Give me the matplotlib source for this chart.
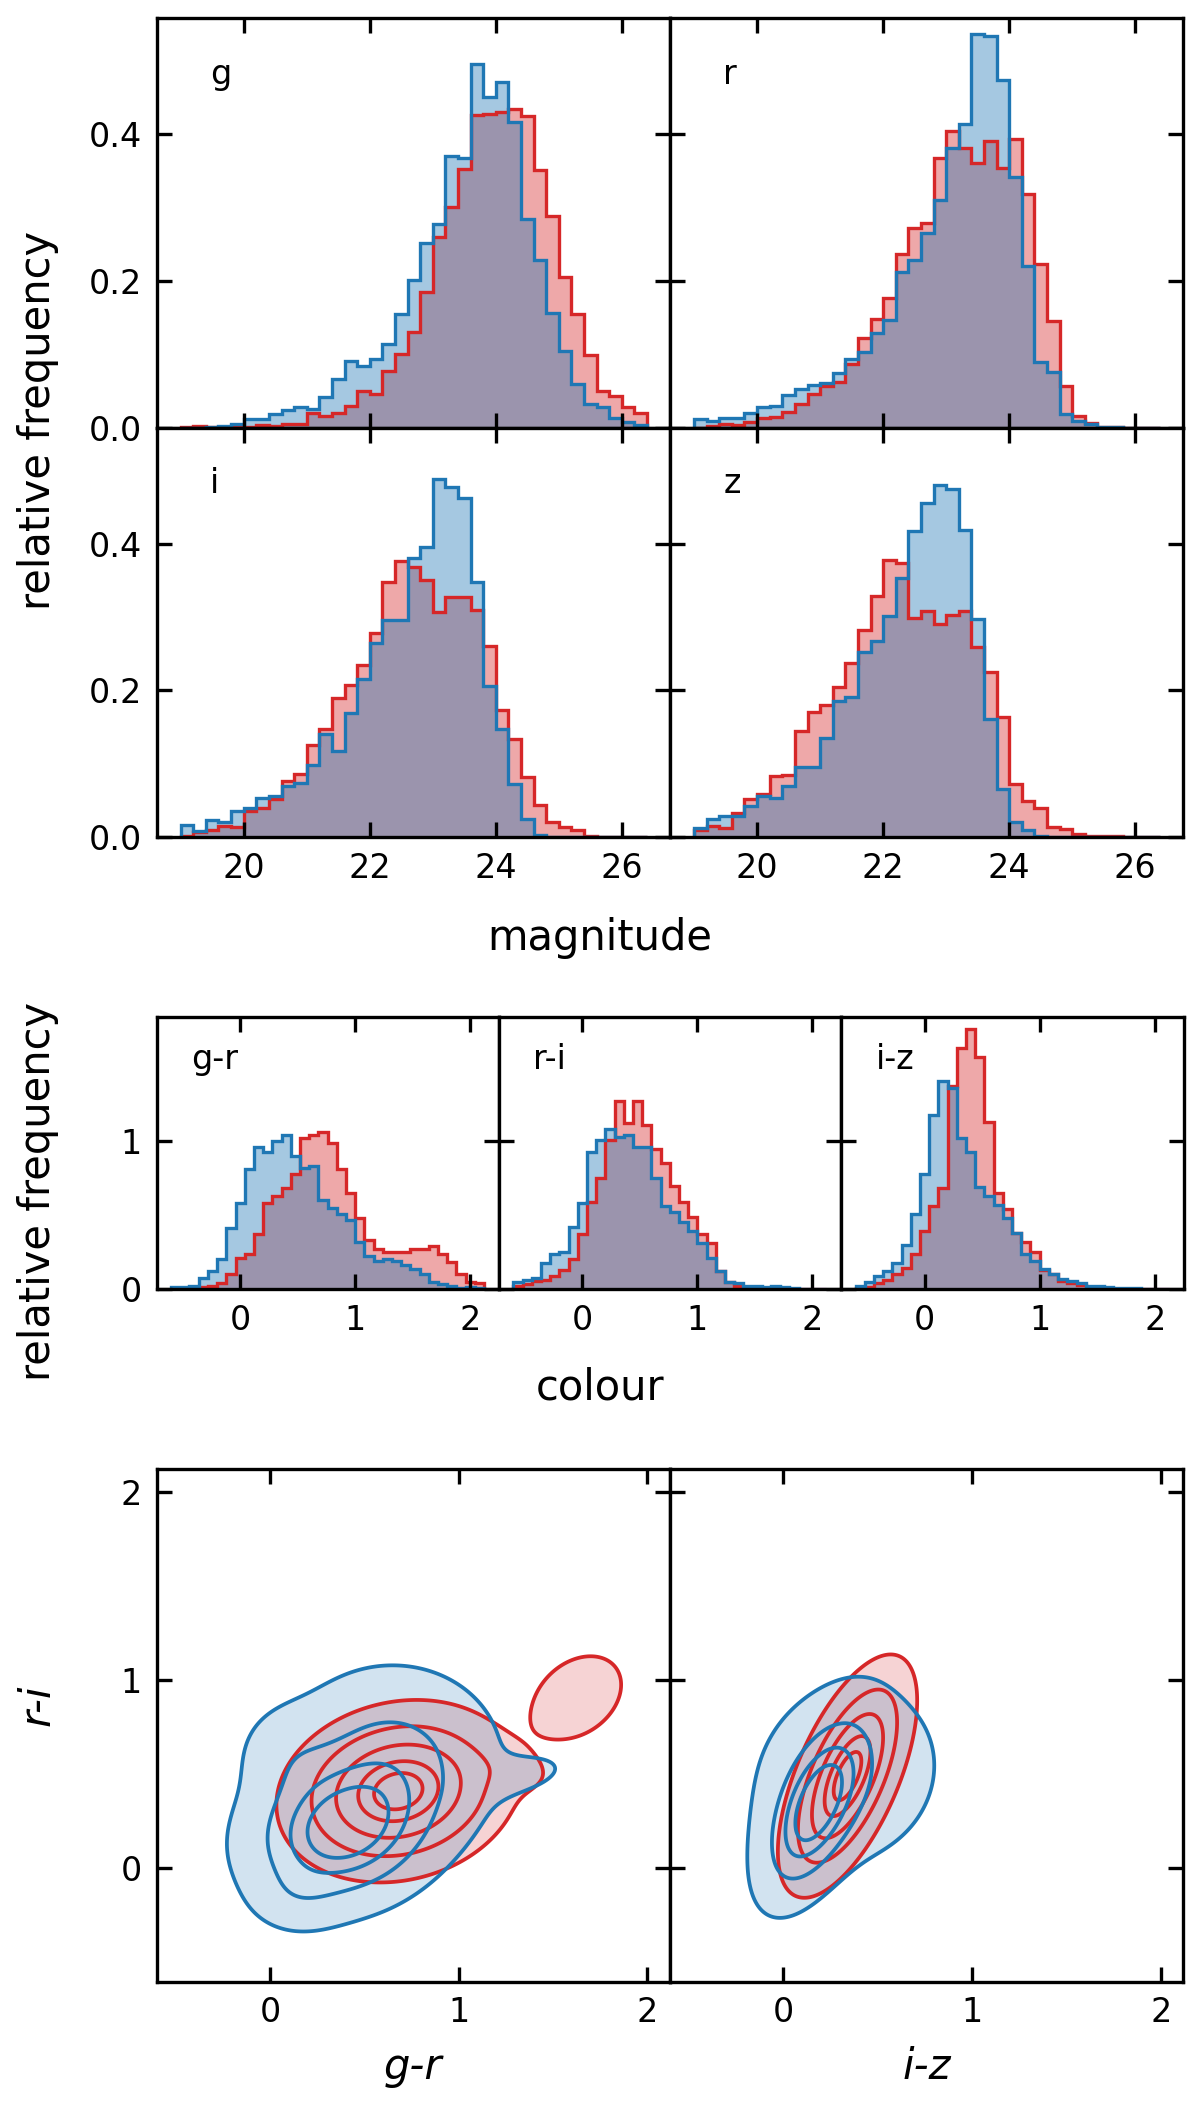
import numpy as np
import matplotlib
matplotlib.use("Agg")
import matplotlib.pyplot as plt

# ---------------- data ----------------
BLUE = "#1f77b4"
RED = "#d62728"

mag_edges = np.round(np.arange(19.0, 26.4001, 0.2), 3)   # 37 bins
bands = ["g", "r", "i", "z"]

g_blue = [0.000, 0.000, 0.002, 0.003, 0.005, 0.012, 0.012, 0.019, 0.024, 0.028, 0.026, 0.042, 0.067,
          0.091, 0.084, 0.094, 0.114, 0.155, 0.202, 0.252, 0.278, 0.370, 0.367, 0.495, 0.451, 0.471,
          0.417, 0.284, 0.228, 0.156, 0.105, 0.060, 0.032, 0.028, 0.013, 0.008, 0.004]
g_red = [0.001, 0.003, 0.002, 0.002, 0.002, 0.002, 0.004, 0.003, 0.006, 0.005, 0.021, 0.017, 0.021,
         0.030, 0.051, 0.046, 0.078, 0.101, 0.131, 0.185, 0.260, 0.301, 0.352, 0.426, 0.427, 0.430,
         0.434, 0.425, 0.351, 0.288, 0.206, 0.155, 0.100, 0.050, 0.043, 0.028, 0.021]
r_blue = [0.012, 0.009, 0.013, 0.014, 0.020, 0.029, 0.030, 0.045, 0.053, 0.059, 0.061, 0.075, 0.094,
          0.104, 0.129, 0.147, 0.212, 0.228, 0.265, 0.310, 0.381, 0.414, 0.536, 0.534, 0.473, 0.341,
          0.221, 0.090, 0.076, 0.019, 0.010, 0.005, 0.002, 0.001, 0.0, 0.0, 0.0]
r_red = [0.0005, 0.003, 0.005, 0.004, 0.008, 0.014, 0.015, 0.022, 0.033, 0.046, 0.057, 0.062, 0.087,
         0.122, 0.148, 0.177, 0.237, 0.272, 0.279, 0.367, 0.404, 0.381, 0.361, 0.390, 0.354, 0.393,
         0.318, 0.223, 0.146, 0.057, 0.017, 0.007, 0.002, 0.001, 0.0, 0.0, 0.0]
i_blue = [0.017, 0.008, 0.023, 0.020, 0.035, 0.040, 0.053, 0.056, 0.070, 0.074, 0.098, 0.140, 0.117,
          0.169, 0.216, 0.265, 0.296, 0.296, 0.380, 0.395, 0.488, 0.477, 0.462, 0.348, 0.206, 0.147,
          0.072, 0.025, 0.003, 0.0, 0.0, 0.0, 0.0, 0.0, 0.0, 0.0, 0.0]
i_red = [0.002, 0.007, 0.009, 0.015, 0.013, 0.035, 0.039, 0.052, 0.076, 0.086, 0.126, 0.148, 0.189,
         0.208, 0.234, 0.279, 0.348, 0.376, 0.369, 0.350, 0.307, 0.328, 0.328, 0.310, 0.261, 0.173,
         0.134, 0.082, 0.044, 0.020, 0.013, 0.010, 0.002, 0.0, 0.0, 0.0, 0.0]
z_blue = [0.012, 0.024, 0.029, 0.029, 0.042, 0.056, 0.053, 0.069, 0.095, 0.096, 0.135, 0.186, 0.191,
          0.253, 0.267, 0.302, 0.354, 0.417, 0.456, 0.480, 0.475, 0.419, 0.297, 0.161, 0.065, 0.020,
          0.010, 0.002, 0.0, 0.0, 0.0, 0.0, 0.0, 0.0, 0.0, 0.0, 0.0]
z_red = [0.009, 0.015, 0.012, 0.033, 0.052, 0.058, 0.083, 0.085, 0.144, 0.170, 0.180, 0.205, 0.238,
         0.283, 0.329, 0.378, 0.374, 0.299, 0.309, 0.291, 0.303, 0.308, 0.259, 0.225, 0.164, 0.072,
         0.049, 0.040, 0.014, 0.011, 0.004, 0.002, 0.002, 0.001, 0.0, 0.0, 0.0]

col_edges = np.round(np.linspace(-0.6, 2.12, 35), 3)   # 34 bins
colours = ["g-r", "r-i", "i-z"]

gr_blue = [0.011, 0.016, 0.018, 0.074, 0.12, 0.20, 0.41, 0.58, 0.81, 0.96, 0.93, 1.00, 1.04, 0.90,
           0.82, 0.83, 0.60, 0.55, 0.51, 0.47, 0.32, 0.22, 0.19, 0.20, 0.19, 0.16, 0.135, 0.10,
           0.05, 0.036, 0.018, 0.007, 0.011, 0.007]
gr_red = [0.0, 0.0, 0.0, 0.011, 0.023, 0.04, 0.10, 0.21, 0.24, 0.37, 0.58, 0.63, 0.68, 0.78,
          1.02, 1.04, 1.06, 0.99, 0.81, 0.65, 0.48, 0.33, 0.27, 0.25, 0.25, 0.25, 0.27, 0.27,
          0.29, 0.24, 0.18, 0.10, 0.05, 0.04]
ri_blue = [0.047, 0.063, 0.074, 0.176, 0.24, 0.25, 0.42, 0.58, 0.93, 1.01, 1.08, 1.03, 1.04, 0.96,
           0.96, 0.75, 0.56, 0.52, 0.45, 0.39, 0.31, 0.21, 0.12, 0.05, 0.038, 0.018, 0.018, 0.011,
           0.023, 0.011, 0.007, 0.003, 0.003, 0.003]
ri_red = [0.018, 0.034, 0.056, 0.063, 0.086, 0.13, 0.20, 0.37, 0.59, 0.75, 1.01, 1.27, 1.12, 1.27,
          1.11, 0.95, 0.85, 0.70, 0.59, 0.49, 0.37, 0.31, 0.12, 0.05, 0.018, 0.003, 0.003, 0.0,
          0.0, 0.0, 0.0, 0.0, 0.0, 0.0]
iz_blue = [0.018, 0.047, 0.09, 0.12, 0.176, 0.30, 0.51, 0.78, 1.18, 1.41, 1.36, 1.02, 0.93, 0.69,
           0.63, 0.57, 0.48, 0.38, 0.24, 0.19, 0.135, 0.10, 0.068, 0.052, 0.04, 0.023, 0.018,
           0.011, 0.007, 0.005, 0.005, 0.003, 0.003, 0.002]
iz_red = [0.005, 0.011, 0.04, 0.063, 0.10, 0.14, 0.24, 0.39, 0.56, 0.68, 1.37, 1.63, 1.76, 1.57,
          1.13, 0.65, 0.54, 0.38, 0.32, 0.25, 0.13, 0.10, 0.056, 0.04, 0.03, 0.011, 0.002, 0.0,
          0.0, 0.0, 0.0, 0.0, 0.0, 0.0]

# 2-D density models (Gaussian mixture parameters estimated from the contours)
# left panel: x = g-r, y = r-i ; right panel: x = i-z, y = r-i
gr_blue_means = [(0.38, 0.20), (0.65, 0.58), (1.35, 0.50), (0.10, 0.60), (0.14, -0.15)]
gr_blue_sigmas = [(0.26, 0.21), (0.30, 0.26), (0.18, 0.08), (0.15, 0.15), (0.14, 0.11)]
gr_blue_rhos = [0.15, 0.0, 0.40, 0.0, 0.0]
gr_blue_weights = [0.55, 0.33, 0.012, 0.035, 0.02]

gr_red_means = [(0.68, 0.41), (1.30, 0.52), (1.63, 0.91)]
gr_red_sigmas = [(0.28, 0.21), (0.15, 0.08), (0.16, 0.15)]
gr_red_rhos = [0.15, -0.30, 0.30]
gr_red_weights = [0.90, 0.012, 0.07]

iz_blue_means = [(0.17, 0.32), (0.34, 0.50)]
iz_blue_sigmas = [(0.15, 0.25), (0.29, 0.29)]
iz_blue_rhos = [0.55, 0.10]
iz_blue_weights = [0.60, 0.40]

iz_red_means = [(0.34, 0.49)]
iz_red_sigmas = [(0.16, 0.28)]
iz_red_rhos = [0.62]
iz_red_weights = [1.0]

blue_levels = [0.06, 0.30, 0.55, 0.75]
red_levels = [0.07, 0.26, 0.50, 0.75, 0.90]

# ---------------- figure ----------------
plt.rcParams.update({
    "font.family": ["DejaVu Sans"],
    "font.size": 8,
    "xtick.direction": "in",
    "ytick.direction": "in",
    "xtick.top": True,
    "ytick.right": True,
    "xtick.labelsize": 8,
    "ytick.labelsize": 8,
    "axes.linewidth": 0.8,
})

W, H = 1200, 2102
fig = plt.figure(figsize=(W / 300, H / 300), dpi=300)


def fx(px):
    return px / W


def fy(py):
    return 1 - py / H


LW = 0.8


def draw_hist(ax, edges, red, blue):
    ax.stairs(red, edges, fill=True, color=RED, alpha=0.4, linewidth=0)
    ax.stairs(blue, edges, fill=True, color=BLUE, alpha=0.4, linewidth=0)
    ax.stairs(red, edges, color=RED, linewidth=LW, baseline=0)
    ax.stairs(blue, edges, color=BLUE, linewidth=LW, baseline=0)


# --- magnitude panels ---
mag_data = {"g": (g_red, g_blue), "r": (r_red, r_blue), "i": (i_red, i_blue), "z": (z_red, z_blue)}
left0, right0 = 156.7, 1183.5
pw = (right0 - left0) / 2
rows = [(18, 428), (428, 837)]
for idx, b in enumerate(bands):
    row, colm = divmod(idx, 2)
    top, bot = rows[row]
    ax = fig.add_axes([fx(left0 + colm * pw), fy(bot), fx(pw), (bot - top) / H])
    red, blue = mag_data[b]
    draw_hist(ax, mag_edges, red, blue)
    ax.set_xlim(18.62, 26.765)
    ax.set_ylim(0, 0.558)
    ax.set_xticks([20, 22, 24, 26])
    ax.set_yticks([0.0, 0.2, 0.4])
    if row == 0:
        ax.tick_params(labelbottom=False)
    if colm == 1:
        ax.tick_params(labelleft=False)
    ax.text(0.104, 0.84, b, transform=ax.transAxes, ha="left", va="baseline", fontsize=8)

fig.text(0.5, fy(938), "magnitude", ha="center", va="center", fontsize=10)
fig.text(fx(38), fy(420), "relative frequency", rotation=90, ha="center", va="center", fontsize=10)

# --- colour panels ---
col_data = {"g-r": (gr_red, gr_blue), "r-i": (ri_red, ri_blue), "i-z": (iz_red, iz_blue)}
cw = (right0 - left0) / 3
ctop, cbot = 1017, 1289
for k, c in enumerate(colours):
    ax = fig.add_axes([fx(left0 + k * cw), fy(cbot), fx(cw), (cbot - ctop) / H])
    red, blue = col_data[c]
    draw_hist(ax, col_edges, red, blue)
    ax.set_xlim(-0.725, 2.25)
    ax.set_ylim(0, 1.84)
    ax.set_xticks([0, 1, 2])
    ax.set_yticks([0, 1])
    if k > 0:
        ax.tick_params(labelleft=False)
    ax.text(0.10, 0.81, c, transform=ax.transAxes, ha="left", va="baseline", fontsize=8)

fig.text(0.5, fy(1388), "colour", ha="center", va="center", fontsize=10)
fig.text(fx(38), fy(1191), "relative frequency", rotation=90, ha="center", va="center", fontsize=10)

# --- contour panels ---
grid = np.linspace(-0.6, 2.12, 400)
xx, yy = np.meshgrid(grid, grid)


def mixture(means, sigmas, rhos, weights):
    z = np.zeros_like(xx)
    for (mx, my), (sx, sy), rho, w in zip(means, sigmas, rhos, weights):
        dx = (xx - mx) / sx
        dy = (yy - my) / sy
        q = (dx * dx - 2 * rho * dx * dy + dy * dy) / (1 - rho * rho)
        z += w * np.exp(-0.5 * q) / (2 * np.pi * sx * sy * np.sqrt(1 - rho * rho))
    return z


panels = [
    ("g-r", (gr_red_means, gr_red_sigmas, gr_red_rhos, gr_red_weights),
     (gr_blue_means, gr_blue_sigmas, gr_blue_rhos, gr_blue_weights)),
    ("i-z", (iz_red_means, iz_red_sigmas, iz_red_rhos, iz_red_weights),
     (iz_blue_means, iz_blue_sigmas, iz_blue_rhos, iz_blue_weights)),
]
ktop, kbot = 1469, 1981.5
for k, (lab, rp, bp) in enumerate(panels):
    ax = fig.add_axes([fx(left0 + k * pw), fy(kbot), fx(pw), (kbot - ktop) / H])
    zr = mixture(*rp)
    zb = mixture(*bp)
    lr = [f * zr.max() for f in red_levels]
    lb = [f * zb.max() for f in blue_levels]
    ax.contourf(xx, yy, zr, levels=[lr[0], zr.max() * 1.01], colors=[RED], alpha=0.2)
    ax.contourf(xx, yy, zb, levels=[lb[0], zb.max() * 1.01], colors=[BLUE], alpha=0.2)
    ax.contour(xx, yy, zr, levels=lr, colors=[RED], linewidths=0.9)
    ax.contour(xx, yy, zb, levels=lb, colors=[BLUE], linewidths=0.9)
    ax.set_xlim(-0.6, 2.12)
    ax.set_ylim(-0.6, 2.12)
    ax.set_xticks([0, 1, 2])
    ax.set_yticks([0, 1, 2])
    if k > 0:
        ax.tick_params(labelleft=False)
    ax.set_xlabel(lab, fontsize=10, style="italic")

fig.text(fx(38), fy(1705), "r-i", rotation=90, ha="center", va="center", fontsize=10, style="italic")

fig.savefig("out.png", dpi=300)
